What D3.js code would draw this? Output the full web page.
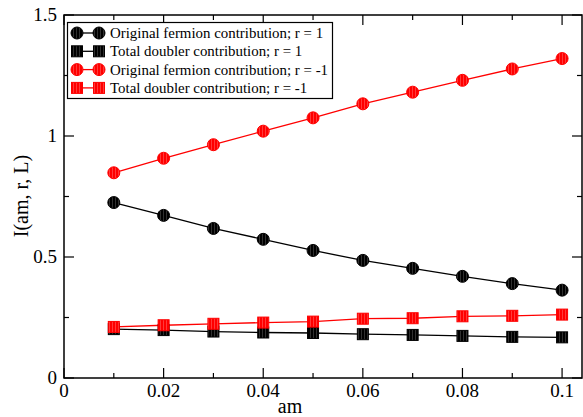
<!DOCTYPE html>
<html>
<head>
<meta charset="utf-8">
<script src="https://cdn.jsdelivr.net/npm/d3@7"></script>
<style>
  html, body { margin: 0; padding: 0; background: #fff; }
  svg { display: block; }
  text { font-family: "Liberation Serif", "Times New Roman", serif; }
</style>
</head>
<body>
<svg id="chart" width="583" height="417"></svg>
<script>
// lattice mass values on the x axis
const am = [0.01, 0.02, 0.03, 0.04, 0.05, 0.06, 0.07, 0.08, 0.09, 0.10];

// I(am, r, L) for each contribution
const fermionR1   = [0.725, 0.672, 0.618, 0.573, 0.527, 0.486, 0.453, 0.420, 0.390, 0.363];
const doublerR1   = [0.202, 0.198, 0.192, 0.188, 0.186, 0.181, 0.178, 0.174, 0.170, 0.168];
const fermionRm1  = [0.848, 0.908, 0.964, 1.020, 1.075, 1.133, 1.181, 1.230, 1.277, 1.320];
const doublerRm1  = [0.211, 0.218, 0.224, 0.229, 0.233, 0.245, 0.247, 0.255, 0.257, 0.262];

const seriesNames = [
  "Original fermion contribution; r = 1",
  "Total doubler contribution; r = 1",
  "Original fermion contribution; r = -1",
  "Total doubler contribution; r = -1"
];

const xTicks = [0, 0.02, 0.04, 0.06, 0.08, 0.1];
const xTickLabels = ["0", "0.02", "0.04", "0.06", "0.08", "0.1"];
const yTicks = [0, 0.5, 1, 1.5];
const yTickLabels = ["0", "0.5", "1", "1.5"];

const series = [
  { name: seriesNames[0], values: fermionR1,  color: "#000", shape: "circle" },
  { name: seriesNames[1], values: doublerR1,  color: "#000", shape: "square" },
  { name: seriesNames[2], values: fermionRm1, color: "#f00", shape: "circle" },
  { name: seriesNames[3], values: doublerRm1, color: "#f00", shape: "square" }
];

const svg = d3.select("#chart");
const plotL = 64, plotR = 582, plotT = 15, plotB = 378;

const x = d3.scaleLinear().domain([0, 0.104]).range([plotL, plotR]);
const y = d3.scaleLinear().domain([0, 1.5]).range([plotB, plotT]);

// hatched fills for the markers
const defs = svg.append("defs");
[["blk", "#000", "#6a6a6a"], ["red", "#f00", "#ff8080"]].forEach(([id, c, l]) => {
  const p = defs.append("pattern").attr("id", "hatch-" + id)
    .attr("patternUnits", "userSpaceOnUse").attr("width", 3).attr("height", 3);
  p.append("rect").attr("width", 3).attr("height", 3).attr("fill", c);
  p.append("rect").attr("x", 1).attr("width", 1).attr("height", 3).attr("fill", l).attr("opacity", 0.45);
});
const fillFor = c => c === "#000" ? "url(#hatch-blk)" : "url(#hatch-red)";

// frame
svg.append("rect").attr("x", plotL).attr("y", plotT)
  .attr("width", plotR - plotL).attr("height", plotB - plotT)
  .attr("fill", "none").attr("stroke", "#000").attr("stroke-width", 1.5);

// ticks on all four sides, pointing inward
const xMinor = [0.01, 0.03, 0.05, 0.07, 0.09];
const yMinor = [0.25, 0.75, 1.25];
const tickG = svg.append("g").attr("stroke", "#000").attr("stroke-width", 1.2);
xTicks.concat(xMinor).forEach((v, i) => {
  const len = i < xTicks.length ? 10 : 5;
  tickG.append("line").attr("x1", x(v)).attr("x2", x(v)).attr("y1", plotB).attr("y2", plotB - len);
  tickG.append("line").attr("x1", x(v)).attr("x2", x(v)).attr("y1", plotT).attr("y2", plotT + len);
});
yTicks.concat(yMinor).forEach((v, i) => {
  const len = i < yTicks.length ? 10 : 5;
  tickG.append("line").attr("y1", y(v)).attr("y2", y(v)).attr("x1", plotL).attr("x2", plotL + len);
  tickG.append("line").attr("y1", y(v)).attr("y2", y(v)).attr("x1", plotR).attr("x2", plotR - len);
});

// tick labels
svg.append("g").selectAll("text").data(xTicks).join("text")
  .attr("x", d => x(d)).attr("y", 397).attr("text-anchor", "middle")
  .attr("font-size", 19).text((d, i) => xTickLabels[i]);
svg.append("g").selectAll("text").data(yTicks).join("text")
  .attr("x", 57).attr("y", d => y(d) + 6).attr("text-anchor", "end")
  .attr("font-size", 19).text((d, i) => yTickLabels[i]);

// axis titles
svg.append("text").attr("x", 290).attr("y", 413).attr("text-anchor", "middle")
  .attr("font-size", 20).text("am");
svg.append("text").attr("transform", "translate(28,196) rotate(-90)")
  .attr("text-anchor", "middle").attr("font-size", 20).text("I(am, r, L)");

function marker(g, shape, color, cx, cy) {
  if (shape === "circle") {
    g.append("circle").attr("cx", cx).attr("cy", cy).attr("r", 6)
      .attr("fill", fillFor(color)).attr("stroke", color).attr("stroke-width", 1);
  } else {
    g.append("rect").attr("x", cx - 5.5).attr("y", cy - 5.5).attr("width", 11).attr("height", 11)
      .attr("fill", fillFor(color)).attr("stroke", color).attr("stroke-width", 1);
  }
}

// lines and markers
const line = d3.line().x((d, i) => x(am[i])).y(d => y(d));
series.forEach(s => {
  svg.append("path").datum(s.values).attr("d", line)
    .attr("fill", "none").attr("stroke", s.color).attr("stroke-width", 1.3);
});
series.forEach(s => {
  const g = svg.append("g");
  s.values.forEach((v, i) => marker(g, s.shape, s.color, x(am[i]), y(v)));
});

// legend
const lg = svg.append("g");
lg.append("rect").attr("x", 67.5).attr("y", 22.5).attr("width", 265).attr("height", 76)
  .attr("fill", "#fff").attr("stroke", "#000").attr("stroke-width", 1.2);
series.forEach((s, i) => {
  const yy = 33 + i * 18.3;
  lg.append("line").attr("x1", 77).attr("x2", 99).attr("y1", yy).attr("y2", yy)
    .attr("stroke", s.color).attr("stroke-width", 1.3);
  marker(lg, s.shape, s.color, 77, yy);
  marker(lg, s.shape, s.color, 99, yy);
  lg.append("text").attr("x", 110).attr("y", yy + 5).attr("font-size", 14.9).text(s.name);
});
</script>
</body>
</html>
